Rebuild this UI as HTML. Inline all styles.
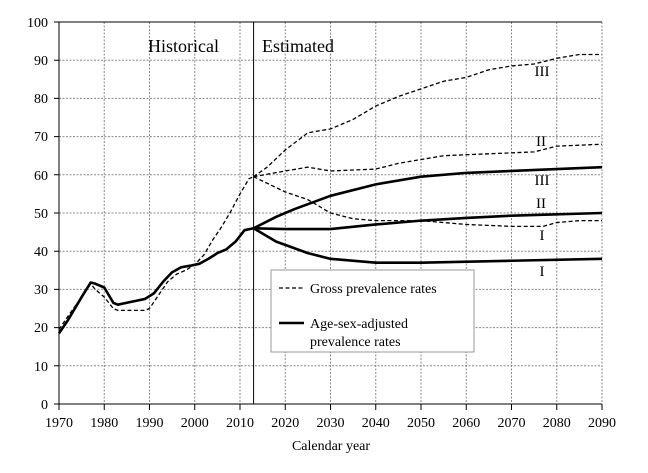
<!DOCTYPE html>
<html><head><meta charset="utf-8"><style>
body{margin:0;background:#fff;}
svg text{font-family:"Liberation Serif",serif;fill:#000;}
</style></head><body>
<svg width="648" height="468" xmlns="http://www.w3.org/2000/svg">
<g stroke="#888" stroke-width="1" stroke-dasharray="2,1.5">
<line x1="59" y1="365.8" x2="602" y2="365.8"/><line x1="59" y1="327.6" x2="602" y2="327.6"/>
<line x1="59" y1="289.4" x2="602" y2="289.4"/><line x1="59" y1="251.2" x2="602" y2="251.2"/>
<line x1="59" y1="213" x2="602" y2="213"/><line x1="59" y1="174.8" x2="602" y2="174.8"/>
<line x1="59" y1="136.6" x2="602" y2="136.6"/><line x1="59" y1="98.4" x2="602" y2="98.4"/>
<line x1="59" y1="60.2" x2="602" y2="60.2"/>
<line x1="104.25" y1="22" x2="104.25" y2="404"/><line x1="149.5" y1="22" x2="149.5" y2="404"/>
<line x1="194.75" y1="22" x2="194.75" y2="404"/><line x1="240" y1="22" x2="240" y2="404"/>
<line x1="285.25" y1="22" x2="285.25" y2="404"/><line x1="330.5" y1="22" x2="330.5" y2="404"/>
<line x1="375.75" y1="22" x2="375.75" y2="404"/><line x1="421" y1="22" x2="421" y2="404"/>
<line x1="466.25" y1="22" x2="466.25" y2="404"/><line x1="511.5" y1="22" x2="511.5" y2="404"/>
<line x1="556.75" y1="22" x2="556.75" y2="404"/><line x1="602" y1="22" x2="602" y2="404"/>
</g>
<g stroke="#000" stroke-width="1" fill="none">
<line x1="59" y1="22" x2="602" y2="22"/>
<line x1="59" y1="22" x2="59" y2="404"/>
<line x1="59" y1="404" x2="602" y2="404"/>
<line x1="253.6" y1="22" x2="253.6" y2="404"/>
</g>
<g stroke="#000" stroke-width="1">
<path d="M59 404v6M104.25 404v6M149.5 404v6M194.75 404v6M240 404v6M285.25 404v6M330.5 404v6M375.75 404v6M421 404v6M466.25 404v6M511.5 404v6M556.75 404v6M602 404v6"/>
<path d="M59 404h-5M59 365.8h-5M59 327.6h-5M59 289.4h-5M59 251.2h-5M59 213h-5M59 174.8h-5M59 136.6h-5M59 98.4h-5M59 60.2h-5M59 22h-5"/>
</g>
<g transform="translate(59,404) scale(4.525,-3.82)" fill="none" stroke="#000" stroke-linejoin="round">
<polyline vector-effect="non-scaling-stroke" stroke-width="1.3" stroke-dasharray="4,2.5" points="0,19.5 2,23 5,28 7,31.5 8,30 10,28 12,25 13,24.5 15,24.5 19,24.5 20,25 22,28.5 24,32 26,34 28,35 30,36.5 32,39 34,43 36,46.5 38,50.5 40,55 42,59 43,59.5"/>
<polyline vector-effect="non-scaling-stroke" stroke-width="1.3" stroke-dasharray="4,2.5" points="43,59.5 46,62 50,66.5 55,71 60,72 65,74.5 70,78 75,80.5 80,82.5 85,84.5 90,85.5 95,87.5 100,88.5 105,89 110,90.5 115,91.5 120,91.5"/>
<polyline vector-effect="non-scaling-stroke" stroke-width="1.3" stroke-dasharray="4,2.5" points="43,59.5 50,61 55,62 60,61 70,61.5 75,63 80,64 85,65 95,65.5 105,66 110,67.5 120,68"/>
<polyline vector-effect="non-scaling-stroke" stroke-width="1.3" stroke-dasharray="4,2.5" points="43,59.5 50,55.5 55,53.5 60,50 65,48.5 70,48 80,48 90,47 100,46.5 107,46.5 110,47.5 115,48 120,48"/>
<polyline vector-effect="non-scaling-stroke" stroke-width="2.6" points="0,18.5 2,22 5,28 7,31.8 8,31.5 10,30.5 12,26.5 13,26 15,26.5 17,27 19,27.5 21,29 23,32 25,34.5 27,35.8 29,36.2 31,36.7 33,38 35,39.5 37,40.5 39,42.5 41,45.5 43,46"/>
<polyline vector-effect="non-scaling-stroke" stroke-width="2.6" points="43,46 48,49 52,51 60,54.5 70,57.5 80,59.5 90,60.5 100,61 120,62"/>
<polyline vector-effect="non-scaling-stroke" stroke-width="2.6" points="43,46 50,45.8 60,45.8 70,47 80,48 90,48.7 100,49.3 120,50"/>
<polyline vector-effect="non-scaling-stroke" stroke-width="2.6" points="43,46 48,42.5 55,39.5 60,38 70,37 80,37 100,37.5 120,38"/>
</g>
<rect x="271" y="270" width="203" height="82" fill="#fff" stroke="#999"/>
<line x1="279" y1="288" x2="304" y2="288" stroke="#000" stroke-width="1.3" stroke-dasharray="4,2.5"/>
<line x1="279" y1="323" x2="304" y2="323" stroke="#000" stroke-width="2.6"/>
<g font-size="14">
<text x="310" y="293">Gross prevalence rates</text>
<text x="310" y="328">Age-sex-adjusted</text>
<text x="310" y="346">prevalence rates</text>
</g>
<g font-size="18">
<text x="148" y="52">Historical</text>
<text x="262" y="52">Estimated</text>
</g>
<g font-size="15" text-anchor="middle">
<text x="542" y="76">III</text><text x="541" y="146">II</text>
<text x="542" y="185">III</text><text x="541" y="208">II</text>
<text x="542" y="240">I</text><text x="542" y="276">I</text>
</g>
<g font-size="14" text-anchor="end">
<text x="48" y="409">0</text><text x="48" y="371">10</text><text x="48" y="332">20</text>
<text x="48" y="294">30</text><text x="48" y="256">40</text><text x="48" y="218">50</text>
<text x="48" y="180">60</text><text x="48" y="141">70</text><text x="48" y="103">80</text>
<text x="48" y="65">90</text><text x="48" y="27">100</text>
</g>
<g font-size="14" text-anchor="middle">
<text x="59" y="427">1970</text><text x="104.25" y="427">1980</text><text x="149.5" y="427">1990</text>
<text x="194.75" y="427">2000</text><text x="240" y="427">2010</text><text x="285.25" y="427">2020</text>
<text x="330.5" y="427">2030</text><text x="375.75" y="427">2040</text><text x="421" y="427">2050</text>
<text x="466.25" y="427">2060</text><text x="511.5" y="427">2070</text><text x="556.75" y="427">2080</text>
<text x="602" y="427">2090</text>
<text x="331" y="450">Calendar year</text>
</g>
</svg>
</body></html>
